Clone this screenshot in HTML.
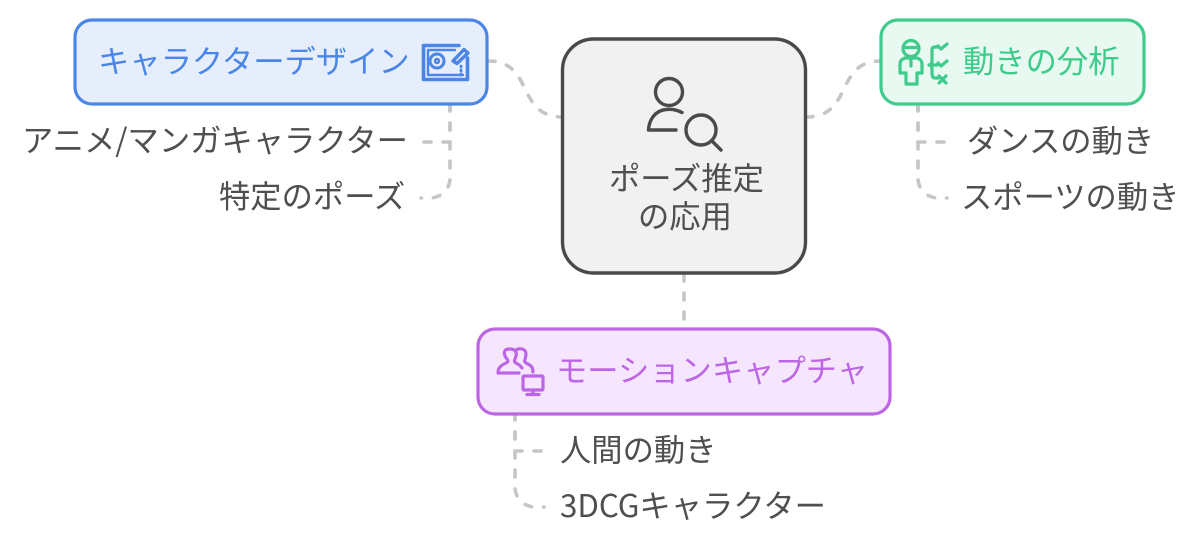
<!DOCTYPE html>
<html><head><meta charset="utf-8"><style>
html,body{margin:0;padding:0;background:#fff;width:1200px;height:545px;overflow:hidden}
svg{display:block}
text{font-family:"Noto Sans CJK JP","Liberation Sans",sans-serif;font-size:31.3px}
.g{fill:#4f4f4f}
.c{fill:none;stroke:#c6c6c6;stroke-width:3.6;stroke-linecap:round;stroke-dasharray:7 12}
</style></head><body>
<svg width="1200" height="545" viewBox="0 0 1200 545" xmlns="http://www.w3.org/2000/svg">
<!-- connectors -->
<path class="c" d="M488 61C535 61 515 117 563 117"/>
<path class="c" d="M806 117C854 117 834 61 881 61"/>
<path class="c" d="M684 274V328"/>
<path class="c" d="M450 104V142H422"/>
<path class="c" d="M450 104V178A20 20 0 0 1 430 198H421"/>
<path class="c" d="M918 104V142H947"/>
<path class="c" d="M918 104V178A20 20 0 0 0 938 198H947"/>
<path class="c" d="M515 413V451H543"/>
<path class="c" d="M515 413V487A20 20 0 0 0 535 507H544"/>
<!-- nodes -->
<rect x="75" y="20" width="412" height="84" rx="17" fill="#e6eefc" stroke="#4a86e8" stroke-width="3.200"/>
<rect x="881" y="20" width="263" height="84" rx="17" fill="#e8f9f1" stroke="#3ecb8b" stroke-width="3.200"/>
<rect x="478" y="329" width="412" height="85" rx="17" fill="#f6e6fd" stroke="#bc66e6" stroke-width="3.200"/>
<rect x="562.500" y="39" width="243" height="234" rx="31" fill="#f0f1f0" stroke="#4a4a4a" stroke-width="3.400"/>
<!-- node text -->
<text x="98" y="72.500" fill="#4a86e8">キャラクターデザイン</text>
<text x="963" y="72.500" fill="#3ecb8b">動きの分析</text>
<text x="556" y="381.500" fill="#bc66e6">モーションキャプチャ</text>
<text x="609" y="189.500" class="g">ポーズ推定</text>
<text x="638" y="227.500" class="g">の応用</text>
<!-- leaves -->
<text x="22" y="151.500" class="g">アニメ/マンガキャラクター</text>
<text x="219" y="207.500" class="g">特定のポーズ</text>
<text x="967" y="152" class="g">ダンスの動き</text>
<text x="961" y="208" class="g">スポーツの動き</text>
<text x="560" y="461" class="g">人間の動き</text>
<text x="560" y="517" class="g">3DCGキャラクター</text>
<!-- center icon -->
<g fill="none" stroke="#4a4a4a" stroke-width="3.400" stroke-linecap="round" stroke-linejoin="round">
<circle cx="669" cy="92" r="13.500"/>
<path d="M682 112.500C676 109.500 672 109 666 109.500C655 110.500 649 120 648.500 130H676"/>
<circle cx="701" cy="130" r="15"/>
<path d="M711.500 140.500L721 150"/>
</g>
<!-- blue icon -->
<g fill="none" stroke="#4a86e8" stroke-linecap="round" stroke-linejoin="round">
<path d="M459 45.500H423.500V79.500H467.500V58" stroke-width="3.600"/>
<path d="M428 50H455M428 50V75H463" stroke-width="2.400"/>
<circle cx="437" cy="61" r="7" stroke-width="3"/>
<circle cx="437" cy="61" r="2" stroke-width="2.400"/>
<path d="M453 61L464 49.500L468 53L457 63.500Z" stroke-width="3.400"/>
<path d="M461 66V67M461 70V71M461 74V75" stroke-width="2.800"/>
</g>
<!-- green icon -->
<g fill="none" stroke="#3ecb8b" stroke-width="3.200" stroke-linecap="round" stroke-linejoin="round">
<circle cx="911" cy="48.500" r="8"/>
<path d="M904 47.500H918"/>
<path d="M905 58C900 60 900 62 900 65V73H906V84H917V73H922V65C922 62 922 60 917 58Z"/>
<path d="M911 59V66"/>
<path d="M939 47H935Q932 47 932 50V60Q932 65 929 65Q932 65 932 70V73Q932 78 935 78H938M929 65H937"/>
<path d="M938 46L941 49L947 44M938 63L941 66L947 61M939 76L946 83M946 76L939 83"/>
</g>
<!-- purple icon -->
<g fill="none" stroke="#bc66e6" stroke-width="3.200" stroke-linecap="round" stroke-linejoin="round">
<path d="M519 373H498C498 367 502 365 506 363C510 361 507 360 505 356C503 350 506 349 510 349C515 349 517 352 516 356C515 360 513 361 516 363C518 364 520 365 522 368"/>
<path d="M516 350C519 348 526 348 526 354C526 359 523 361 526 363C530 365 533 366 533 372"/>
<rect x="523" y="376" width="20" height="14" rx="1"/>
<path d="M533 390V394M527 394.500H539"/>
</g>
</svg>
</body></html>
